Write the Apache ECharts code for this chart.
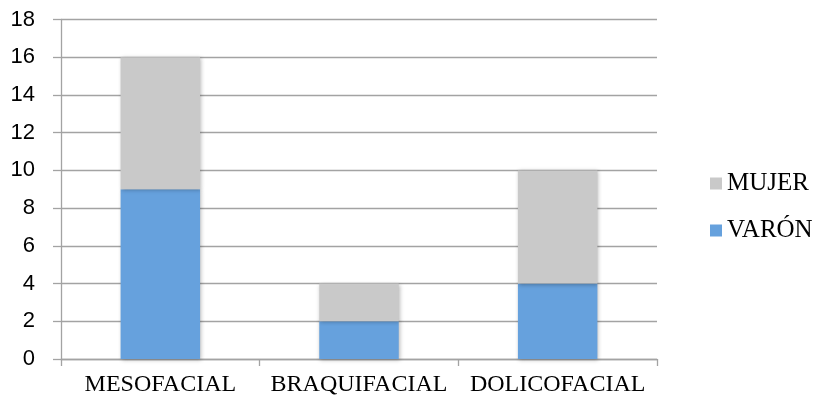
<!DOCTYPE html>
<html>
<head>
<meta charset="utf-8">
<style>
  html, body { margin: 0; padding: 0; background: #ffffff; }
  #chart { width: 820px; height: 401px; }
</style>
<script src="https://cdn.jsdelivr.net/npm/echarts@6/dist/echarts.min.js"></script>
</head>
<body>
<div id="chart"></div>
<script>
// Facial type by sex
const categories = ['MESOFACIAL', 'BRAQUIFACIAL', 'DOLICOFACIAL'];
const varon = [9, 2, 4];
const mujer = [7, 2, 6];
const yTicks = { min: 0, max: 18, interval: 2 };

const serif = 'Liberation Serif';
const sans = 'Liberation Sans';
const gridColor = '#a3a3a3';
const shadow = {
  shadowBlur: 4,
  shadowColor: 'rgba(0,0,0,0.28)',
  shadowOffsetX: 1,
  shadowOffsetY: 1
};

const chart = echarts.init(document.getElementById('chart'), null, { renderer: 'canvas' });
chart.setOption({
  animation: false,
  backgroundColor: '#ffffff',
  grid: { left: 61, right: 163, top: 19.5, bottom: 42, containLabel: false },
  legend: {
    orient: 'vertical',
    left: 705,
    top: 166,
    itemWidth: 12,
    itemHeight: 12,
    itemGap: 22,
    icon: 'rect',
    data: ['MUJER', 'VARÓN'],
    textStyle: { fontFamily: serif, fontSize: 25, color: '#000' }
  },
  xAxis: {
    type: 'category',
    data: categories,
    axisLine: { lineStyle: { color: gridColor, width: 1.3 } },
    axisTick: { show: true, alignWithLabel: false, length: 7, lineStyle: { color: gridColor, width: 1.3 } },
    axisLabel: { fontFamily: serif, fontSize: 24, color: '#000', margin: 14, interval: 0 }
  },
  yAxis: {
    type: 'value',
    min: yTicks.min,
    max: yTicks.max,
    interval: yTicks.interval,
    axisLine: { show: true, lineStyle: { color: gridColor, width: 1.3 } },
    axisTick: { show: true, length: 8, lineStyle: { color: gridColor, width: 1.3 } },
    splitLine: { lineStyle: { color: gridColor, width: 1.3 } },
    axisLabel: { fontFamily: sans, fontSize: 22, color: '#000', margin: 26 }
  },
  series: [
    {
      name: 'VARÓN',
      type: 'bar',
      stack: 'total',
      data: varon,
      barWidth: '40%',
      itemStyle: Object.assign({ color: '#66a1dd' }, shadow)
    },
    {
      name: 'MUJER',
      type: 'bar',
      stack: 'total',
      data: mujer,
      barWidth: '40%',
      itemStyle: Object.assign({ color: '#c9c9c9' }, shadow)
    }
  ]
});
</script>
</body>
</html>
